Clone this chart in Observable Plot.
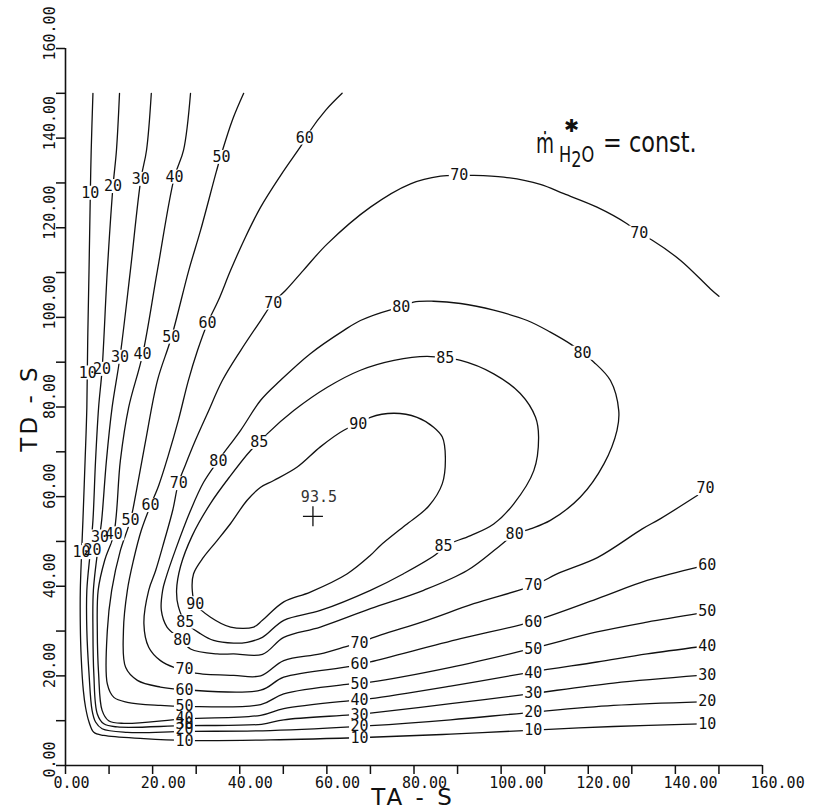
<!DOCTYPE html>
<html><head><meta charset="utf-8">
<script src="https://cdn.jsdelivr.net/npm/d3@7"></script>
<script src="https://cdn.jsdelivr.net/npm/@observablehq/plot@0.6"></script>
<style>body{margin:0;background:#fff}#chart{width:815px;height:810px}</style>
</head><body><div id="chart"></div>
<script>
// contour levels
const levels = [10, 20, 30, 40, 50, 60, 70, 80, 85, 90];
// contour polylines [TA, TD]
const c10 = [[6.3,150],[5.9,137.3],[5.7,127.7],[5.4,110.5],[5.1,94.9],[4.9,79.9],[4.5,68.1],[4.0,54.7],[3.7,47.5],[3.4,39.1],[3.4,31.3],[3.6,24.2],[4.1,16.7],[4.6,13.0],[5.4,9.7],[6.5,7.4],[8.8,6.7],[18.0,6.0],[27.5,5.6],[47.0,5.7],[70.0,6.3],[88.4,7.0],[105.2,7.8],[125.8,8.7],[145.7,9.3]];
const c20 = [[12.4,150],[11.7,137.3],[10.9,129.2],[9.6,110.5],[8.4,88.4],[7.6,79.9],[6.9,68.1],[6.3,54.7],[5.7,47.8],[4.9,39.1],[4.9,30.1],[5.4,20.5],[6.1,12.3],[6.9,9.7],[8.4,8.2],[14.2,7.4],[27.5,7.6],[47.0,7.8],[70.0,8.9],[88.4,10.2],[105.2,11.7],[125.8,13.4],[145.7,14.2]];
const c30 = [[19.7,150],[18.6,137.3],[17.3,130.8],[14.9,110.5],[12.5,91.1],[10.7,79.9],[9.4,68.1],[8.3,54.7],[7.7,50.2],[6.4,39.1],[6.3,30.1],[6.5,20.5],[7.3,11.5],[8.8,9.3],[11.9,8.6],[27.5,8.9],[45.0,9.2],[50.1,10.2],[65.4,11.3],[70.0,11.7],[88.4,13.8],[105.2,15.8],[125.8,18.4],[145.7,20.1]];
const c40 = [[28.7,150],[27.1,137.3],[25.0,131.3],[21.1,110.5],[17.7,91.7],[14.5,79.9],[12.6,68.1],[11.1,51.7],[9.0,45.8],[7.5,39.1],[7.3,30.1],[7.6,20.5],[8.4,12.3],[9.9,10.0],[13.4,9.4],[27.5,10.4],[44.8,11.2],[50.1,12.7],[65.4,14.5],[70.0,14.9],[88.4,17.7],[106.7,20.8],[122.0,23.1],[133.5,24.9],[145.7,26.5]];
const c50 = [[40.9,150],[38.3,144.0],[35.8,136.5],[34.7,132.8],[31.0,119.4],[28.3,110.5],[24.3,95.5],[21.1,85.9],[18.4,72.5],[16.3,61.4],[14.9,54.7],[12.6,48.0],[10.6,39.1],[9.6,30.1],[9.6,18.2],[11.1,15.2],[14.2,14.1],[21.8,13.4],[27.5,13.2],[44.8,13.6],[50.1,16.0],[65.4,18.2],[70.0,18.6],[88.4,21.9],[106.7,26.0],[122.0,29.8],[133.5,32.0],[145.7,34.0]];
const c60 = [[63.5,150],[59.7,146.2],[56.2,141.7],[54.9,139.5],[49.4,131.7],[44.8,124.6],[41.3,117.9],[37.9,110.5],[35.1,103.8],[32.6,98.7],[30.3,92.6],[28.2,85.9],[25.9,77.0],[23.6,69.2],[21.4,62.5],[19.5,58.0],[17.4,52.5],[15.6,45.8],[14.2,39.1],[13.3,30.1],[13.8,21.9],[16.5,19.0],[21.8,17.5],[27.5,16.9],[44.8,16.8],[50.1,19.7],[65.4,22.1],[70.0,23.1],[90.7,28.3],[106.7,32.0],[122.0,37.2],[133.5,41.3],[145.7,44.4]];
const c70 = [[150.0,104.7],[148.0,106.4],[141.2,112.7],[134.7,117.2],[131.7,118.8],[128.9,120.9],[122.0,124.6],[114.4,127.6],[109.0,129.7],[100.6,131.3],[93.0,131.7],[90.4,131.7],[86.1,131.5],[79.2,129.8],[70.0,124.6],[60.1,116.4],[54.6,110.5],[50.5,106.0],[47.7,103.4],[44.8,99.3],[40.2,92.6],[36.0,85.9],[32.6,78.6],[29.8,72.5],[27.5,67.0],[25.9,62.9],[24.6,56.9],[22.7,50.2],[20.7,43.5],[19.1,39.1],[18.0,31.6],[19.1,26.4],[21.8,23.4],[24.9,21.9],[27.3,21.4],[29.8,20.6],[38.6,20.1],[44.8,20.0],[50.1,23.4],[58.5,24.9],[65.4,26.8],[67.7,27.3],[70.0,28.3],[83.0,32.4],[93.7,36.1],[107.4,40.2],[113.6,43.1],[122.1,46.4],[132.4,52.8],[136.6,55.1],[145.1,60.3]];
const c80 = [[77.1,102.2],[79.9,103.4],[84.5,103.6],[90.7,103.1],[98.3,101.6],[106.0,99.3],[111.3,96.7],[116.3,93.8],[118.7,92.0],[121.3,90.0],[125.1,85.9],[127.0,79.2],[126.6,74.8],[123.6,67.3],[118.2,59.9],[111.3,54.7],[106.7,52.8],[103.1,51.6],[99.8,49.1],[92.2,43.5],[82.2,39.1],[70.0,35.0],[58.5,30.9],[50.1,28.6],[45.2,24.8],[38.6,24.9],[34.8,24.9],[28.7,26.0],[26.8,27.9],[23.3,30.9],[22.0,34.6],[22.3,39.1],[23.0,41.7],[25.2,48.0],[28.7,56.9],[31.7,63.2],[35.1,68.1],[40.2,74.8],[44.8,81.5],[49.3,85.9],[56.2,91.9],[63.9,97.1],[67.7,99.3],[74.6,101.7],[77.1,102.2]];
const c85 = [[87.2,90.8],[90.7,90.4],[98.3,87.4],[104.4,83.0],[107.9,77.7],[108.6,73.3],[107.5,65.8],[102.9,58.4],[98.3,53.9],[93.0,51.3],[86.8,48.9],[85.3,47.3],[77.6,42.8],[70.0,39.1],[58.5,34.6],[50.1,32.4],[45.2,28.6],[41.7,27.5],[38.6,27.3],[34.0,27.9],[31.0,29.4],[27.5,32.0],[25.9,35.5],[25.5,39.1],[26.4,44.4],[29.1,51.3],[33.3,58.5],[37.9,64.7],[42.5,70.3],[44.5,72.1],[46.3,74.0],[52.4,79.2],[60.1,84.4],[67.7,88.2],[75.4,90.4],[83.0,91.3],[87.2,90.8]];
const c90 = [[67.2,76.1],[70.0,77.7],[75.4,78.6],[80.7,77.7],[84.5,75.5],[86.5,73.3],[87.2,68.8],[86.5,62.9],[83.3,57.8],[78.0,53.6],[72.3,49.1],[70.0,46.9],[64.7,42.8],[56.2,38.7],[50.1,36.5],[45.2,32.4],[43.2,30.9],[37.9,30.9],[33.3,33.1],[29.8,36.1],[29.1,39.1],[29.4,42.8],[31.7,46.5],[34.8,50.2],[37.9,54.0],[41.7,59.2],[44.8,62.1],[47.8,63.6],[53.2,66.6],[58.5,71.1],[63.9,74.8],[67.2,76.1]];
const contours = [c10, c20, c30, c40, c50, c60, c70, c80, c85, c90];
// contour labels [TA, TD, level]
const labelPts = [
 [5.7,127.7,10],[10.9,129.2,20],[17.3,130.8,30],[25.0,131.3,40],[35.8,135.7,50],[54.9,140.0,60],
 [5.1,87.6,10],[8.4,88.4,20],[12.5,91.1,30],[17.7,91.7,40],[24.3,95.6,50],[32.6,98.7,60],[47.7,103.2,70],
 [3.7,47.5,10],[6.2,48.0,20],[7.9,51.0,30],[11.1,51.7,40],[14.9,54.7,50],[19.5,58.0,60],[26.0,62.9,70],[35.1,67.9,80],[44.5,72.1,85],
 [77.1,102.2,80],[87.2,90.8,85],[67.2,76.1,90],[90.4,131.7,70],[131.7,118.8,70],[118.7,92.0,80],
 [29.8,36.1,90],[27.5,32.0,85],[26.8,27.9,80],[27.3,21.4,70],[27.3,16.9,60],[27.3,13.2,50],[27.3,10.5,40],[27.3,9.3,30],[27.3,8.0,20],[27.3,5.4,10],
 [86.8,48.9,85],[103.1,51.6,80],
 [67.5,27.3,70],[67.5,22.5,60],[67.5,18.2,50],[67.5,14.5,40],[67.5,11.3,30],[67.5,8.7,20],[67.5,6.2,10],
 [107.4,40.2,70],[107.4,31.9,60],[107.4,25.9,50],[107.4,20.5,40],[107.4,16.1,30],[107.4,11.8,20],[107.4,7.8,10],
 [146.9,61.8,70],[147.3,44.8,60],[147.3,34.4,50],[147.3,26.6,40],[147.3,20.1,30],[147.3,14.3,20],[147.3,9.3,10]
];
// optimum
const peak = [{x: 56.8, y: 55.6, value: "93.5"}];
// axis ticks
const majorTicks = [0, 20, 40, 60, 80, 100, 120, 140, 160];
const minorTicks = [10, 30, 50, 70, 90, 110, 130, 150];

const lineData = contours.flatMap((pts, i) => pts.map(([x, y]) => ({level: levels[i], x, y})));
const labelData = labelPts.map(([x, y, level]) => ({x, y, level}));
const fmt = d => d.toFixed(2);
const mono = "DejaVu Sans Mono";
const ink = "#111";
const plusSymbol = {draw(ctx, size) { const r = Math.sqrt(size / Math.PI); ctx.moveTo(-r, 0); ctx.lineTo(r, 0); ctx.moveTo(0, -r); ctx.lineTo(0, r); }};
// blank-out box behind each contour label (pen lifted around the figure)
const gapSymbol = {draw(ctx) { ctx.rect(-10.5, -7.5, 21, 14); }};

const plot = Plot.plot({
  width: 815, height: 810,
  marginLeft: 65, marginRight: 53, marginTop: 48, marginBottom: 45,
  x: {domain: [0, 160], label: null},
  y: {domain: [0, 160], label: null},
  style: {background: "white", color: ink},
  marks: [
    Plot.line(lineData, {x: "x", y: "y", z: "level", curve: "catmull-rom", stroke: ink, strokeWidth: 1.3}),
    Plot.dot(labelData, {x: "x", y: "y", symbol: gapSymbol, r: 5, fill: "white", stroke: "none"}),
    Plot.text(labelData, {x: "x", y: "y", text: d => String(d.level), fontSize: 15, fontFamily: mono, fill: ink}),
    Plot.dot(peak, {x: "x", y: "y", symbol: plusSymbol, r: 10, stroke: ink, fill: "none", strokeWidth: 1.3}),
    Plot.text(peak, {x: "x", y: "y", text: "value", dx: 6, dy: -19, fontSize: 15, fontFamily: mono, fill: "#333"}),
    Plot.ruleY([0], {stroke: ink, strokeWidth: 1.6}),
    Plot.ruleX([0], {stroke: ink, strokeWidth: 1.6}),
    Plot.axisX(majorTicks, {tickSize: 9, tickFormat: () => "", label: null, stroke: ink, strokeWidth: 1.5}),
    Plot.axisX(minorTicks, {tickSize: 9, tickFormat: () => "", label: null, stroke: ink, strokeWidth: 1.5}),
    Plot.axisY(majorTicks, {tickSize: 9, tickFormat: () => "", label: null, stroke: ink, strokeWidth: 1.5}),
    Plot.axisY(minorTicks, {tickSize: 9, tickFormat: () => "", label: null, stroke: ink, strokeWidth: 1.5}),
    Plot.text(majorTicks, {x: d => d, y: 0, text: fmt, textAnchor: "start", lineAnchor: "bottom", dx: -12, dy: 22, fontSize: 15, fontFamily: mono, fill: ink}),
    Plot.text(majorTicks, {x: 0, y: d => d, text: fmt, rotate: -90, textAnchor: "start", lineAnchor: "bottom", dx: -11, dy: 12, fontSize: 15, fontFamily: mono, fill: ink})
  ]
});

const svg = d3.select(plot);
const sans = "DejaVu Sans";
svg.append("text").attr("x", 413).attr("y", 805).attr("text-anchor", "middle")
  .attr("font-family", sans).attr("font-size", 23).attr("letter-spacing", 3).attr("fill", ink).text("TA - S");
svg.append("text").attr("transform", "translate(37,408) rotate(-90)").attr("text-anchor", "middle")
  .attr("font-family", sans).attr("font-size", 23).attr("letter-spacing", 3).attr("fill", ink).text("TD - S");
// annotation  m* H2O = const.
const ann = svg.append("g").attr("fill", ink).attr("font-family", sans).attr("text-anchor", "start");
ann.append("text").attr("transform", "translate(536,153) scale(0.66,1)").attr("font-size", 28).text("ṁ");
ann.append("text").attr("x", 571.5).attr("y", 132).attr("text-anchor", "middle").attr("font-size", 18).text("✱");
const h2o = ann.append("text").attr("transform", "translate(559,162) scale(0.77,1)").attr("font-size", 21);
h2o.append("tspan").text("H");
h2o.append("tspan").attr("dy", 5).text("2");
h2o.append("tspan").attr("dy", -5).text("O");
ann.append("text").attr("transform", "translate(603,152) scale(0.8,1)").attr("font-size", 28).text("= const.");

document.getElementById("chart").appendChild(plot);
</script>
</body></html>
